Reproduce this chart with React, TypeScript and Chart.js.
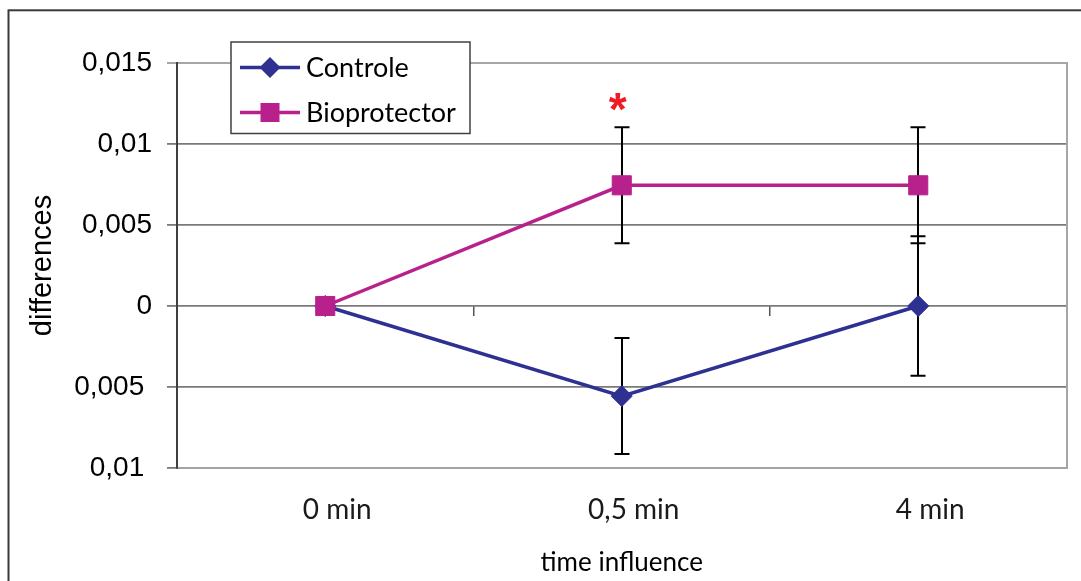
import React, { useEffect, useRef } from 'react';
import { Chart, registerables } from 'chart.js';

Chart.register(...registerables);

// ---- data ----
const categories = ['0 min', '0,5 min', '4 min'];
const seriesNames = ['Controle', 'Bioprotector'];
const controleValues = [0, -0.00556, 0];
const controleErrors = [0, 0.00358, 0.0043];
const bioprotectorValues = [0, 0.00745, 0.00745];
const bioprotectorErrors = [0, 0.00358, 0.00358];
const significanceMarks = ['', '*', ''];
const yTickValues = [-0.01, -0.005, 0, 0.005, 0.01, 0.015];
const yTickLabels = ['0,01 ', '0,005 ', '0', '0,005', '0,01', '0,015'];
const xAxisTitle = 'time influence';
const yAxisTitle = 'differences';

const BLUE = '#2E3192';
const MAGENTA = '#B8218C';
const ARIAL = "'Liberation Sans', Arial, sans-serif";
const CALIBRI = "Lato, 'Noto Sans', sans-serif";

const errorBarPlugin = {
  id: 'errorBars',
  beforeDatasetsDraw(chart: any) {
    const { ctx } = chart;
    const yScale = chart.scales.y;
    ctx.save();
    ctx.strokeStyle = '#000';
    ctx.lineWidth = 2;
    chart.data.datasets.forEach((ds: any, i: number) => {
      const meta = chart.getDatasetMeta(i);
      const errs: number[] = ds.errorBars || [];
      meta.data.forEach((pt: any, j: number) => {
        const e = errs[j];
        if (!e) return;
        const v = ds.data[j];
        const x = Math.round(pt.x);
        const yTop = yScale.getPixelForValue(v + e);
        const yBot = yScale.getPixelForValue(v - e);
        ctx.beginPath();
        ctx.moveTo(x, yTop);
        ctx.lineTo(x, yBot);
        ctx.moveTo(x - 7.5, yTop);
        ctx.lineTo(x + 7.5, yTop);
        ctx.moveTo(x - 7.5, yBot);
        ctx.lineTo(x + 7.5, yBot);
        ctx.stroke();
      });
    });
    ctx.restore();
  },
};

const significancePlugin = {
  id: 'significance',
  afterDatasetsDraw(chart: any) {
    const { ctx } = chart;
    const ds = chart.data.datasets[1];
    const meta = chart.getDatasetMeta(1);
    const yScale = chart.scales.y;
    ctx.save();
    ctx.fillStyle = '#EE1C25';
    significanceMarks.forEach((m, j) => {
      if (!m) return;
      ctx.font = `bold 100px ${ARIAL}`;
      const m100 = ctx.measureText(m);
      const w100 = m100.actualBoundingBoxLeft + m100.actualBoundingBoxRight;
      const size = (100 * 18) / w100;
      ctx.font = `bold ${size}px ${ARIAL}`;
      const mt = ctx.measureText(m);
      const cx = meta.data[j].x - 4;
      const cy = yScale.getPixelForValue(ds.data[j] + ds.errorBars[j]) - 25.5;
      ctx.textAlign = 'left';
      ctx.textBaseline = 'alphabetic';
      const bx = cx - (mt.actualBoundingBoxRight - mt.actualBoundingBoxLeft) / 2;
      const by = cy + (mt.actualBoundingBoxAscent - mt.actualBoundingBoxDescent) / 2;
      ctx.fillText(m, bx, by);
    });
    ctx.restore();
  },
};

const legendPlugin = {
  id: 'boxLegend',
  afterDraw(chart: any) {
    const { ctx } = chart;
    const box = { left: 231, top: 42, right: 470, bottom: 133.5 };
    const rows = [67.5, 112.5];
    ctx.save();
    ctx.fillStyle = '#fff';
    ctx.fillRect(box.left, box.top, box.right - box.left, box.bottom - box.top);
    ctx.strokeStyle = '#404040';
    ctx.lineWidth = 1.5;
    ctx.strokeRect(box.left, box.top, box.right - box.left, box.bottom - box.top);
    chart.data.datasets.forEach((ds: any, i: number) => {
      const y = rows[i];
      ctx.strokeStyle = ds.borderColor;
      ctx.lineWidth = 3.5;
      ctx.beginPath();
      ctx.moveTo(240, y);
      ctx.lineTo(300, y);
      ctx.stroke();
      ctx.fillStyle = ds.borderColor;
      const mx = 270;
      ctx.beginPath();
      if (ds.pointStyle === 'rectRot') {
        ctx.moveTo(mx - 10.5, y);
        ctx.lineTo(mx, y - 10.5);
        ctx.lineTo(mx + 10.5, y);
        ctx.lineTo(mx, y + 10.5);
        ctx.closePath();
      } else {
        ctx.rect(mx - 9.5, y - 9.5, 19, 19);
      }
      ctx.fill();
      ctx.fillStyle = '#000';
      ctx.font = `27px ${CALIBRI}`;
      ctx.textAlign = 'left';
      ctx.textBaseline = 'middle';
      ctx.fillText(ds.label, 306, y + 0.5);
    });
    ctx.restore();
  },
};

const framePlugin = {
  id: 'outerFrame',
  afterDraw(chart: any) {
    const { ctx } = chart;
    ctx.save();
    ctx.strokeStyle = '#3a3a3a';
    ctx.lineWidth = 2;
    ctx.strokeRect(8.5, 10.3, 2000, 2000);
    ctx.restore();
  },
};

export default function App() {
  const canvasRef = useRef<HTMLCanvasElement | null>(null);

  useEffect(() => {
    if (!canvasRef.current) return;
    const chart = new Chart(canvasRef.current, {
      type: 'line',
      data: {
        labels: categories,
        datasets: [
          {
            label: seriesNames[0],
            data: controleValues,
            errorBars: controleErrors,
            borderColor: BLUE,
            backgroundColor: BLUE,
            borderWidth: 3.5,
            pointStyle: 'rectRot',
            pointRadius: 10.5,
            pointHoverRadius: 10.5,
            pointBackgroundColor: BLUE,
            pointBorderColor: BLUE,
            pointBorderWidth: 1,
            tension: 0,
            order: 1,
            xAxisID: 'x',
            yAxisID: 'y',
            clip: false,
          } as any,
          {
            label: seriesNames[1],
            data: bioprotectorValues,
            errorBars: bioprotectorErrors,
            borderColor: MAGENTA,
            backgroundColor: MAGENTA,
            borderWidth: 3.5,
            pointStyle: 'rect',
            pointRadius: 13.5,
            pointHoverRadius: 13.5,
            pointBackgroundColor: MAGENTA,
            pointBorderColor: MAGENTA,
            pointBorderWidth: 1,
            tension: 0,
            order: 0,
            xAxisID: 'x',
            yAxisID: 'y',
            clip: false,
          } as any,
        ],
      },
      options: {
        animation: false,
        responsive: false,
        maintainAspectRatio: false,
        events: [],
        layout: { padding: { left: 0, top: 63, right: 9, bottom: 0 } },
        plugins: {
          legend: { display: false },
          tooltip: { enabled: false },
        },
        scales: {
          x: {
            type: 'category',
            position: 'bottom',
            offset: true,
            grid: { display: false, offset: true },
            border: { display: true, color: '#a3a3a3', width: 2 },
            ticks: {
              font: { family: CALIBRI, size: 28 },
              color: '#1a1a1a',
              padding: 17,
              labelOffset: 12,
              maxRotation: 0,
              autoSkip: false,
            },
            title: {
              display: true,
              text: xAxisTitle,
              font: { family: CALIBRI, size: 26 },
              color: '#000',
              padding: { top: 0, bottom: 2.4 },
            },
            afterFit: (s: any) => {
              s.height = 113;
            },
          },
          xZero: {
            type: 'category',
            axis: 'x',
            position: { y: 0 },
            offset: true,
            grid: {
              display: true,
              offset: true,
              drawOnChartArea: false,
              drawTicks: true,
              tickLength: 10,
              color: '#555',
              lineWidth: 1.5,
            },
            border: { display: false },
            ticks: { display: false },
            title: { display: false },
          } as any,
          y: {
            type: 'linear',
            position: 'left',
            min: -0.01,
            max: 0.015,
            afterBuildTicks: (s: any) => {
              s.ticks = yTickValues.map((v) => ({ value: v }));
            },
            ticks: {
              callback: (_v: any, i: number) => yTickLabels[i],
              font: { family: ARIAL, size: 28 },
              color: '#000',
              padding: 15,
            },
            grid: {
              color: (c: any) => (c.index === yTickValues.length - 1 ? '#a6a6a6' : '#7a7a7a'),
              lineWidth: (c: any) => (c.index === yTickValues.length - 1 ? 2 : 1.8),
              tickLength: 10,
              drawTicks: true,
            },
            border: { display: true, color: '#404040', width: 2 },
            title: {
              display: true,
              text: yAxisTitle,
              font: { family: ARIAL, size: 29 },
              color: '#000',
              padding: { top: 26, bottom: 0 },
            },
            afterFit: (s: any) => {
              s.width = 177;
            },
          },
          yFrame: {
            type: 'linear',
            axis: 'y',
            position: 'right',
            min: -0.01,
            max: 0.015,
            grid: { display: false },
            border: { display: true, color: '#a6a6a6', width: 2 },
            ticks: { display: false },
            title: { display: false },
            afterFit: (s: any) => {
              s.width = 0;
            },
          } as any,
        },
      },
      plugins: [errorBarPlugin, significancePlugin, legendPlugin, framePlugin],
    } as any);
    return () => chart.destroy();
  }, []);

  return (
    <div style={{ position: 'fixed', left: 0, top: 0, width: 1081, height: 581, background: '#fff' }}>
      <canvas ref={canvasRef} width={1081} height={581} style={{ display: 'block' }} />
    </div>
  );
}
